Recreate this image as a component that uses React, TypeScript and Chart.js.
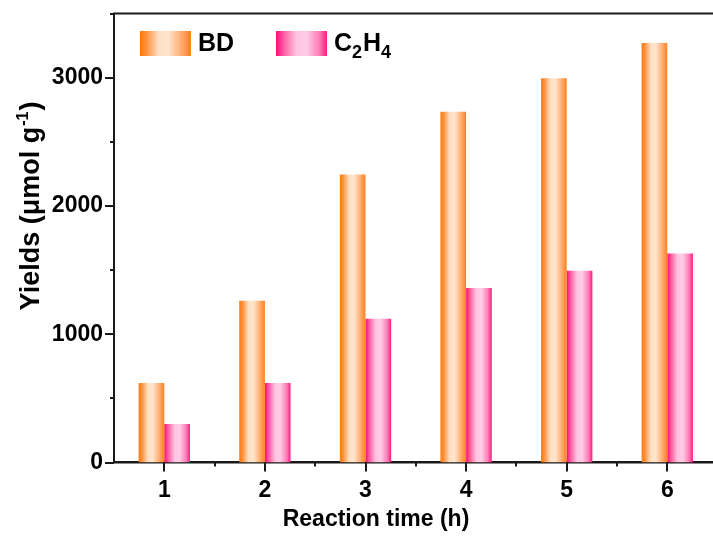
import React, { useEffect, useRef } from "react";
import { Chart, registerables } from "chart.js";

Chart.register(...registerables);

// Reaction time (h) and yields (µmol g⁻¹)
const categories = ["1", "2", "3", "4", "5", "6"];
const bdYields = [620, 1260, 2245, 2735, 2995, 3270];
const c2h4Yields = [300, 620, 1120, 1360, 1495, 1630];
const yMajorTicks = [0, 1000, 2000, 3000];
const yMinorTicks = [500, 1500, 2500, 3500];

const FONT = "'Liberation Sans', Arial, Helvetica, sans-serif";
const AXIS = "#1a1a1a";

const BD_STOPS: [number, string][] = [
  [0, "#ff790a"],
  [0.14, "#ff9442"],
  [0.36, "#ffdfc2"],
  [0.55, "#ffe5cd"],
  [0.8, "#ffae72"],
  [1, "#ff801c"],
];
const C2H4_STOPS: [number, string][] = [
  [0, "#ff0a78"],
  [0.15, "#ff5ca2"],
  [0.4, "#ffc4e1"],
  [0.6, "#ffcce6"],
  [0.85, "#ff7cb6"],
  [1, "#ff1a80"],
];

function hGradient(ctx: CanvasRenderingContext2D, x0: number, x1: number, stops: [number, string][]) {
  const g = ctx.createLinearGradient(x0, 0, x1, 0);
  stops.forEach(([o, c]) => g.addColorStop(o, c));
  return g;
}

function line(ctx: CanvasRenderingContext2D, x0: number, y0: number, x1: number, y1: number) {
  ctx.beginPath();
  ctx.moveTo(x0, y0);
  ctx.lineTo(x1, y1);
  ctx.stroke();
}

const decorPlugin = {
  id: "decor",
  beforeDatasetsDraw(chart: any) {
    const ctx = chart.ctx as CanvasRenderingContext2D;
    chart.data.datasets.forEach((ds: any, di: number) => {
      const meta = chart.getDatasetMeta(di);
      const stops = di === 0 ? BD_STOPS : C2H4_STOPS;
      meta.data.forEach((el: any) => {
        const { x, width } = el.getProps(["x", "width"], true);
        const g = hGradient(ctx, x - width / 2, x + width / 2, stops);
        el.options = Object.assign({}, el.options, { backgroundColor: g });
      });
    });
  },
  afterDraw(chart: any) {
    const ctx = chart.ctx as CanvasRenderingContext2D;
    const a = chart.chartArea;
    const xs = chart.scales.x;
    const ys = chart.scales.y;
    ctx.save();
    ctx.strokeStyle = AXIS;
    ctx.lineWidth = 2;
    ctx.lineCap = "butt";

    // top frame line
    line(ctx, a.left - 1, a.top, a.right, a.top);

    // y tick marks
    yMajorTicks.forEach((v) => {
      const py = Math.round(ys.getPixelForValue(v));
      line(ctx, a.left - 9, py, a.left, py);
    });
    yMinorTicks.forEach((v) => {
      const py = Math.round(ys.getPixelForValue(v));
      line(ctx, a.left - 4, py, a.left, py);
    });

    // x tick marks
    categories.forEach((_, i) => {
      const px = Math.round(xs.getPixelForValue(i));
      line(ctx, px, a.bottom, px, a.bottom + 9);
      if (i < categories.length - 1) {
        const pm = Math.round((xs.getPixelForValue(i) + xs.getPixelForValue(i + 1)) / 2);
        line(ctx, pm, a.bottom, pm, a.bottom + 4);
      }
    });

    // legend
    const boxW = 51;
    const boxH = 25;
    const ly = a.top + 17.5;
    const lx1 = a.left + 26;
    const lx2 = a.left + 162;
    ctx.fillStyle = hGradient(ctx, lx1, lx1 + boxW, BD_STOPS);
    ctx.fillRect(lx1, ly, boxW, boxH);
    ctx.fillStyle = hGradient(ctx, lx2, lx2 + boxW, C2H4_STOPS);
    ctx.fillRect(lx2, ly, boxW, boxH);

    ctx.fillStyle = "#000";
    ctx.textBaseline = "alphabetic";
    ctx.textAlign = "left";
    const base = ly + 20;
    ctx.font = `bold 25px ${FONT}`;
    ctx.fillText("BD", lx1 + boxW + 7, base);
    let tx = lx2 + boxW + 7;
    const parts: [string, boolean][] = [["C", false], ["2", true], ["H", false], ["4", true]];
    parts.forEach(([t, sub]) => {
      ctx.font = sub ? `bold 18px ${FONT}` : `bold 25px ${FONT}`;
      ctx.fillText(t, tx, sub ? base + 7 : base);
      tx += ctx.measureText(t).width + (sub ? 1 : 0);
    });

    // x axis title
    ctx.font = `bold 23px ${FONT}`;
    ctx.textAlign = "center";
    ctx.fillText("Reaction time (h)", 376, 526);

    // y axis title (rotated, with superscript)
    ctx.translate(39, 206);
    ctx.rotate(-Math.PI / 2);
    ctx.textAlign = "left";
    const main = "Yields (\u03bcmol g";
    const sup = "-1";
    const close = ")";
    ctx.font = `bold 27px ${FONT}`;
    const w1 = ctx.measureText(main).width;
    const w3 = ctx.measureText(close).width;
    ctx.font = `bold 16px ${FONT}`;
    const w2 = ctx.measureText(sup).width;
    const total = w1 + w2 + w3 + 2;
    let px = -total / 2;
    ctx.font = `bold 27px ${FONT}`;
    ctx.fillText(main, px, 0);
    px += w1 + 1;
    ctx.font = `bold 16px ${FONT}`;
    ctx.fillText(sup, px, -11);
    px += w2 + 1;
    ctx.font = `bold 27px ${FONT}`;
    ctx.fillText(close, px, 0);

    ctx.restore();
  },
};

export default function App() {
  const canvasRef = useRef<HTMLCanvasElement | null>(null);

  useEffect(() => {
    if (!canvasRef.current) return;
    const chart = new Chart(canvasRef.current, {
      type: "bar",
      data: {
        labels: categories,
        datasets: [
          { label: "BD", data: bdYields, backgroundColor: "#ff9442", borderWidth: 0 },
          { label: "C2H4", data: c2h4Yields, backgroundColor: "#ff5ca2", borderWidth: 0 },
        ],
      },
      options: {
        animation: false,
        responsive: true,
        maintainAspectRatio: false,
        layout: { padding: { top: 13.5, right: 12.4, bottom: 0, left: 0 } },
        datasets: { bar: { categoryPercentage: 0.51, barPercentage: 1 } },
        plugins: { legend: { display: false }, tooltip: { enabled: false }, title: { display: false } },
        scales: {
          x: {
            grid: { display: false, drawTicks: false, tickLength: 0 },
            border: { display: true, color: AXIS, width: 2.5 },
            ticks: { color: "#000", font: { family: FONT, size: 23, weight: "bold" }, padding: 14, maxRotation: 0 },
            afterFit: (s: any) => {
              s.height = 73.5;
              s.paddingLeft = 0;
              s.paddingRight = 0;
            },
          },
          y: {
            min: 0,
            max: 3500,
            grid: { display: false, drawTicks: false, tickLength: 0 },
            border: { display: true, color: AXIS, width: 2 },
            ticks: {
              stepSize: 500,
              autoSkip: false,
              color: "#000",
              font: { family: FONT, size: 23, weight: "bold" },
              padding: 11,
              callback: (v: any) => (yMajorTicks.includes(Number(v)) ? String(v) : ""),
            },
            afterFit: (s: any) => {
              s.width = 114;
              s.paddingTop = 0;
              s.paddingBottom = 0;
            },
          },
        },
      },
      plugins: [decorPlugin],
    });
    return () => chart.destroy();
  }, []);

  return (
    <div style={{ position: "fixed", left: 0, top: 0, width: 713, height: 536, overflow: "hidden", background: "#fff" }}>
      <div style={{ position: "relative", width: 730, height: 536 }}>
        <canvas ref={canvasRef} />
      </div>
    </div>
  );
}
